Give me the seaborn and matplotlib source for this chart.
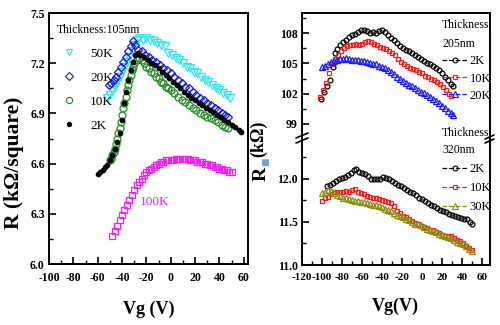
import numpy as np
import pandas as pd
import matplotlib
matplotlib.use("Agg")
import matplotlib.pyplot as plt
from matplotlib.lines import Line2D
from matplotlib.ticker import MultipleLocator, FormatStrFormatter
import seaborn as sns

# ---------------- data: left panel (Thickness 105 nm) ----------------
vg_50K = [-52, -50, -48, -46, -44, -42, -40, -38, -36, -34, -32, -30, -28, -26, -23, -20, -17, -14, -11, -8, -5, -2,
          1, 4, 7, 10, 13, 16, 19, 22, 25, 28, 31, 34, 37, 40, 43, 46, 49]
r_50K = [6.99, 7.01, 7.04, 7.06, 7.09, 7.12, 7.15, 7.18, 7.21, 7.24, 7.27, 7.31, 7.34, 7.35, 7.34, 7.35, 7.34, 7.33,
         7.32, 7.31, 7.30, 7.26, 7.25, 7.23, 7.22, 7.20, 7.18, 7.17, 7.15, 7.14, 7.12, 7.10, 7.09, 7.07, 7.05, 7.04,
         7.02, 7.01, 6.99]

vg_20K = [-51, -49, -47, -45, -43, -41, -39, -37, -35, -33, -31, -29, -27, -24, -21, -18, -15, -12, -9, -6, -3, 0,
          3, 6, 9, 12, 15, 18, 21, 24, 27, 30, 33, 36, 39, 42, 45, 47]
r_20K = [7.07, 7.08, 7.10, 7.12, 7.15, 7.18, 7.21, 7.24, 7.27, 7.30, 7.33, 7.31, 7.28, 7.27, 7.25, 7.24, 7.22, 7.21,
         7.19, 7.17, 7.16, 7.14, 7.12, 7.10, 7.08, 7.06, 7.05, 7.03, 7.01, 6.99, 6.98, 6.96, 6.95, 6.93, 6.92, 6.90,
         6.89, 6.88]

vg_10K = [-50, -49, -48, -47, -46, -45, -44, -43, -42, -41, -40, -39, -38, -37, -36, -35, -34, -33, -32, -31, -30,
          -28, -26, -24, -22, -20, -18, -16, -14, -12, -10, -8, -6, -4, -2, 0, 3, 6, 9, 12, 15, 18, 21, 24, 27, 30,
          33, 36, 39, 42, 45, 47]
r_10K = [6.62, 6.63, 6.65, 6.67, 6.69, 6.72, 6.75, 6.78, 6.81, 6.85, 6.89, 6.93, 6.96, 7.00, 7.04, 7.07, 7.10, 7.13,
         7.16, 7.18, 7.20, 7.22, 7.23, 7.22, 7.20, 7.18, 7.17, 7.15, 7.14, 7.12, 7.11, 7.09, 7.08, 7.06, 7.05, 7.04,
         7.02, 7.00, 6.98, 6.97, 6.95, 6.93, 6.92, 6.90, 6.89, 6.88, 6.87, 6.86, 6.85, 6.83, 6.82, 6.81]

vg_2K = [-60, -58, -56, -54, -52, -50, -48, -46, -44, -42, -40, -38, -37, -35, -33, -31, -29, -27, -25, -22, -19,
         -16, -13, -10, -7, -4, -1, 2, 5, 8, 11, 14, 17, 20, 23, 26, 29, 32, 35, 38, 41, 44, 47, 50, 53, 56, 58]
r_2K = [6.54, 6.55, 6.56, 6.58, 6.59, 6.62, 6.65, 6.69, 6.73, 6.78, 6.86, 6.96, 7.03, 7.10, 7.16, 7.21, 7.25, 7.26,
        7.25, 7.24, 7.22, 7.20, 7.19, 7.17, 7.15, 7.13, 7.11, 7.09, 7.07, 7.05, 7.03, 7.01, 6.99, 6.98, 6.96, 6.95,
        6.93, 6.92, 6.91, 6.89, 6.88, 6.86, 6.85, 6.83, 6.82, 6.80, 6.79]

vg_100K = [-48, -46, -44, -42, -40, -38, -36, -34, -32, -30, -28, -26, -24, -22, -20, -18, -16, -14, -12, -10, -8,
           -6, -4, -2, 0, 2, 4, 6, 8, 10, 12, 14, 16, 18, 20, 22, 24, 26, 28, 30, 32, 34, 36, 38, 40, 42, 44, 46,
           48, 50]
r_100K = [6.17, 6.20, 6.23, 6.26, 6.29, 6.32, 6.35, 6.38, 6.41, 6.44, 6.47, 6.49, 6.51, 6.53, 6.55, 6.56, 6.57,
          6.58, 6.59, 6.60, 6.61, 6.61, 6.62, 6.62, 6.62, 6.62, 6.63, 6.63, 6.63, 6.63, 6.63, 6.63, 6.62, 6.62,
          6.62, 6.61, 6.61, 6.61, 6.60, 6.60, 6.59, 6.59, 6.58, 6.58, 6.57, 6.57, 6.56, 6.56, 6.55, 6.55]

# ---------------- data: right panel, upper (Thickness 205 nm) ----------------
vg_205_2K = [-101, -98, -95, -92, -89, -87, -85, -82, -79, -76, -73, -70, -67, -64, -61, -58, -55, -52, -49, -46,
             -43, -40, -37, -34, -31, -28, -25, -22, -19, -16, -13, -10, -7, -4, -1, 2, 5, 8, 11, 14, 17, 20, 23,
             26, 29, 31]
r_205_2K = [101.5, 102.2, 102.8, 103.4, 104.6, 106.0, 106.4, 106.8, 107.1, 107.3, 107.6, 107.8, 107.9, 108.1, 108.3,
            108.3, 108.2, 108.0, 108.1, 108.0, 108.2, 108.3, 108.1, 107.8, 107.5, 107.3, 107.0, 106.7, 106.5,
            106.3, 106.2, 106.0, 105.8, 105.6, 105.4, 105.2, 105.0, 104.9, 104.7, 104.5, 104.3, 104.0, 103.7,
            103.4, 103.0, 102.8]

vg_205_10K = [-102, -99, -96, -93, -90, -87, -84, -81, -78, -75, -72, -69, -66, -63, -60, -57, -54, -51, -48, -45,
              -42, -39, -36, -33, -30, -27, -24, -21, -18, -15, -12, -9, -6, -3, 0, 3, 6, 9, 12, 15, 18, 21, 24,
              27, 29]
r_205_10K = [101.7, 102.4, 103.1, 104.0, 104.9, 105.4, 105.8, 106.2, 106.5, 106.7, 106.8, 106.8, 106.9, 106.8,
             106.9, 107.1, 107.2, 107.1, 106.9, 106.8, 106.6, 106.5, 106.4, 106.2, 106.0, 105.8, 105.4, 105.1,
             104.9, 104.7, 104.5, 104.4, 104.3, 104.1, 104.0, 103.8, 103.7, 103.5, 103.4, 103.2, 103.0, 102.7,
             102.4, 102.0, 101.8]

vg_205_20K = [-100, -97, -94, -91, -88, -85, -82, -79, -76, -73, -70, -67, -64, -61, -58, -55, -52, -49, -46, -43,
              -40, -37, -34, -31, -28, -25, -22, -19, -16, -13, -10, -7, -4, -1, 2, 5, 8, 11, 14, 17, 20, 23, 26,
              29, 31]
r_205_20K = [104.6, 104.7, 104.9, 105.1, 105.2, 105.3, 105.4, 105.4, 105.5, 105.4, 105.3, 105.3, 105.3, 105.2,
             105.2, 105.1, 105.0, 104.9, 104.9, 104.7, 104.6, 104.5, 104.3, 104.1, 103.9, 103.7, 103.5, 103.3,
             103.1, 102.9, 102.8, 102.6, 102.4, 102.2, 102.1, 101.9, 101.7, 101.5, 101.3, 101.1, 100.8, 100.6,
             100.3, 100.1, 99.9]

# ---------------- data: right panel, lower (Thickness 320 nm) ----------------
vg_320_2K = [-95, -92, -89, -86, -83, -80, -77, -74, -71, -68, -66, -63, -60, -57, -54, -51, -48, -45, -42, -39,
             -36, -33, -30, -27, -24, -21, -18, -15, -12, -9, -6, -3, 0, 3, 6, 9, 12, 15, 18, 21, 24, 27, 30, 33,
             36, 39, 42, 45, 48, 50]
r_320_2K = [11.91, 11.93, 11.95, 11.97, 11.99, 12.01, 12.02, 12.04, 12.07, 12.10, 12.11, 12.08, 12.06, 12.05, 12.03,
            12.00, 11.99, 11.99, 12.00, 12.02, 12.01, 11.99, 11.97, 11.95, 11.93, 11.91, 11.89, 11.87, 11.85,
            11.83, 11.81, 11.78, 11.76, 11.74, 11.72, 11.70, 11.68, 11.66, 11.64, 11.62, 11.61, 11.59, 11.58,
            11.57, 11.56, 11.54, 11.53, 11.53, 11.50, 11.48]

vg_320_10K = [-100, -97, -94, -91, -88, -85, -82, -79, -76, -73, -70, -67, -64, -61, -58, -55, -52, -49, -46, -43,
              -40, -37, -34, -31, -28, -25, -22, -19, -16, -13, -10, -7, -4, -1, 2, 5, 8, 11, 14, 17, 20, 23, 26,
              29, 32, 35, 38, 41, 44, 47, 50]
r_320_10K = [11.74, 11.77, 11.79, 11.82, 11.84, 11.85, 11.84, 11.85, 11.86, 11.85, 11.87, 11.88, 11.85, 11.83,
             11.82, 11.80, 11.79, 11.78, 11.77, 11.76, 11.75, 11.74, 11.73, 11.72, 11.68, 11.63, 11.60, 11.57,
             11.55, 11.53, 11.51, 11.49, 11.47, 11.45, 11.44, 11.43, 11.41, 11.40, 11.38, 11.37, 11.35, 11.34,
             11.33, 11.33, 11.31, 11.29, 11.28, 11.25, 11.22, 11.20, 11.17]

vg_320_30K = [-100, -97, -94, -91, -88, -85, -82, -79, -76, -73, -70, -67, -64, -61, -58, -55, -52, -49, -46, -43,
              -40, -37, -34, -31, -28, -25, -22, -19, -16, -13, -10, -7, -4, -1, 2, 5, 8, 11, 14, 17, 20, 23, 26,
              29, 32, 35, 38, 41, 44, 47, 50]
r_320_30K = [11.83, 11.85, 11.87, 11.86, 11.83, 11.81, 11.80, 11.78, 11.77, 11.76, 11.75, 11.74, 11.74, 11.73,
             11.73, 11.72, 11.71, 11.70, 11.69, 11.68, 11.67, 11.65, 11.64, 11.62, 11.60, 11.58, 11.57, 11.55,
             11.53, 11.52, 11.50, 11.48, 11.47, 11.46, 11.44, 11.42, 11.41, 11.39, 11.38, 11.36, 11.35, 11.34,
             11.32, 11.31, 11.29, 11.27, 11.26, 11.24, 11.22, 11.19, 11.16]

# ---------------- style ----------------
sns.set_theme(style="ticks")
plt.rcParams["font.family"] = ["Liberation Serif", "DejaVu Sans"]
plt.rcParams["axes.unicode_minus"] = False
plt.rcParams["axes.edgecolor"] = "black"
plt.rcParams["axes.linewidth"] = 1.4
plt.rcParams["xtick.color"] = "black"
plt.rcParams["ytick.color"] = "black"
plt.rcParams["text.color"] = "black"

fig = plt.figure(figsize=(5, 3.25), dpi=100)
W, H = 500.0, 325.0


def rect(x0, y0, x1, y1):
    return [x0 / W, 1 - y1 / H, (x1 - x0) / W, (y1 - y0) / H]


axL = fig.add_axes(rect(49, 13, 248, 264))
axT = fig.add_axes(rect(302, 13, 490, 138))
axB = fig.add_axes(rect(302, 138, 490, 265))
for a in (axL, axT, axB):
    a.set_facecolor("none")


def series(ax, xs, ys, color, marker, ms, filled=False):
    kw = dict(marker=marker, markersize=ms, markeredgecolor=color, markeredgewidth=0.9,
              markerfacecolor=(color if filled else "none"))
    sns.lineplot(x=xs, y=ys, ax=ax, color=color, linestyle="", estimator=None, sort=False,
                 legend=False, **kw)


C50, C20, C10, C2, C100 = "#2fe6f0", "#1515f0", "#1e8c1e", "black", "#f020f0"
series(axL, vg_50K, r_50K, C50, "v", 5.5)
series(axL, vg_20K, r_20K, C20, "D", 4.5)
series(axL, vg_10K, r_10K, C10, "o", 5)
series(axL, vg_2K, r_2K, C2, "o", 3.2, filled=True)
series(axL, vg_100K, r_100K, C100, "s", 4.5)

CR1, CR2, CR3, CR4 = "black", "#ff1a1a", "#1a1aff", "#8c8c10"
series(axT, vg_205_2K, r_205_2K, CR1, "o", 3.5)
series(axT, vg_205_10K, r_205_10K, CR2, "s", 3.5)
series(axT, vg_205_20K, r_205_20K, CR3, "^", 4)
series(axB, vg_320_2K, r_320_2K, CR1, "o", 3.5)
series(axB, vg_320_10K, r_320_10K, CR2, "s", 3.5)
series(axB, vg_320_30K, r_320_30K, CR4, "^", 4)

# ---------------- axes formatting ----------------
tick_kw = dict(direction="in", length=5, width=1.2, labelsize=8.5, pad=3)
minor_kw = dict(which="minor", direction="in", length=3, width=1.0)

axL.set_xlim(-100, 63.5)
axL.set_ylim(6.0, 7.5)
axL.xaxis.set_major_locator(MultipleLocator(20))
axL.xaxis.set_minor_locator(MultipleLocator(10))
axL.yaxis.set_major_locator(MultipleLocator(0.3))
axL.yaxis.set_minor_locator(MultipleLocator(0.15))
axL.yaxis.set_major_formatter(FormatStrFormatter("%.1f"))
axL.tick_params(axis="both", **tick_kw)
axL.tick_params(axis="both", **minor_kw)
axL.tick_params(axis="x", pad=6)

for a in (axT, axB):
    a.set_xlim(-120, 68)
    a.xaxis.set_major_locator(MultipleLocator(20))
    a.xaxis.set_minor_locator(MultipleLocator(10))
    a.tick_params(axis="both", **tick_kw)
    a.tick_params(axis="both", **minor_kw)
    a.tick_params(axis="x", labelsize=8, pad=6)
axT.set_ylim(97.6, 110)
axT.yaxis.set_major_locator(MultipleLocator(3))
axT.yaxis.set_minor_locator(MultipleLocator(1.5))
axT.yaxis.set_major_formatter(FormatStrFormatter("%d"))
axT.tick_params(axis="x", which="both", bottom=False, labelbottom=False)
axT.spines["bottom"].set_visible(False)
axB.set_ylim(11.0, 12.47)
axB.yaxis.set_major_locator(MultipleLocator(0.5))
axB.yaxis.set_minor_locator(MultipleLocator(0.25))
axB.yaxis.set_major_formatter(FormatStrFormatter("%.1f"))
axB.spines["top"].set_visible(False)

for a in (axL, axT, axB):
    a.set_xlabel("")
    a.set_ylabel("")
    for lab in a.get_xticklabels() + a.get_yticklabels():
        lab.set_fontweight("bold")

# ---------------- labels ----------------
fig.text(149 / W, 1 - 309 / H, "Vg (V)", ha="center", va="center", fontsize=13, fontweight="bold")
fig.text(395 / W, 1 - 306 / H, "Vg(V)", ha="center", va="center", fontsize=13, fontweight="bold")
fig.text(14 / W, 1 - 163 / H, "R (k\u03a9/square)", ha="center", va="center", rotation=90,
         fontsize=15.5, fontweight="bold")
fig.text(261 / W, 1 - 174 / H, "R", ha="center", va="center", rotation=90, fontsize=14, fontweight="bold")
fig.text(266 / W, 1 - 162 / H, "\u25a0", ha="center", va="center", rotation=90, fontsize=6.5,
         color="#7f9fd0", family=["DejaVu Sans"])
fig.text(259 / W, 1 - 139 / H, "(k\u03a9)", ha="center", va="center", rotation=90, fontsize=13,
         fontweight="bold")
axL.text(-13, 6.37, "100K", color=C100, fontsize=9.5, ha="center", va="center")

# ---------------- broken-axis marks ----------------
for (x0, y0, x1, y1) in [(296, 138, 308, 133), (296, 143, 308, 138), (485, 139, 494, 135), (485, 143, 494, 139)]:
    fig.add_artist(Line2D([x0 / W, x1 / W], [1 - y0 / H, 1 - y1 / H], color="black", lw=1.2,
                          transform=fig.transFigure))

# ---------------- legends ----------------
def h(color, marker, ms, ls="", filled=False):
    return Line2D([], [], color=color, marker=marker, markersize=ms, linestyle=ls, lw=0.9,
                  markeredgecolor=color, markeredgewidth=0.8,
                  markerfacecolor=(color if filled else "none"))


legL = axL.legend([h(C50, "v", 5), h(C20, "D", 4), h(C10, "o", 4.5), h(C2, "o", 3, filled=True)],
                  ["50K", "20K", "10K", "2K"], title="Thickness:105nm", title_fontsize=8.5,
                  fontsize=9.5, loc="upper left", bbox_to_anchor=(0.04, 0.958), frameon=False,
                  handlelength=1.8, handletextpad=0.7, labelspacing=0.9, borderpad=0, borderaxespad=0)
legL._legend_box.align = "left"

legT = axT.legend([h(CR1, "o", 3.5, "--"), h(CR2, "s", 3.5, "--"), h(CR3, "^", 4, "--")],
                  ["2K", "10K", "20K"], title="Thickness:\n205nm", title_fontsize=8.5,
                  fontsize=9, loc="upper left", bbox_to_anchor=(0.745, 0.95), frameon=False,
                  handlelength=2.0, handletextpad=0.2, labelspacing=0.42, borderpad=0, borderaxespad=0)
legT._legend_box.align = "left"
legT.get_title().set_linespacing(1.75)

legB = axB.legend([h(CR1, "o", 3.5, "--"), h(CR2, "s", 3.5, "--"), h(CR4, "^", 4, "--")],
                  ["2K", "10K", "30K"], title="Thickness:\n320nm", title_fontsize=8.5,
                  fontsize=9, loc="upper left", bbox_to_anchor=(0.745, 1.09), frameon=False,
                  handlelength=2.0, handletextpad=0.2, labelspacing=0.56, borderpad=0, borderaxespad=0)
legB._legend_box.align = "left"
legB.get_title().set_linespacing(1.6)

fig.savefig("out.png", dpi=100)
